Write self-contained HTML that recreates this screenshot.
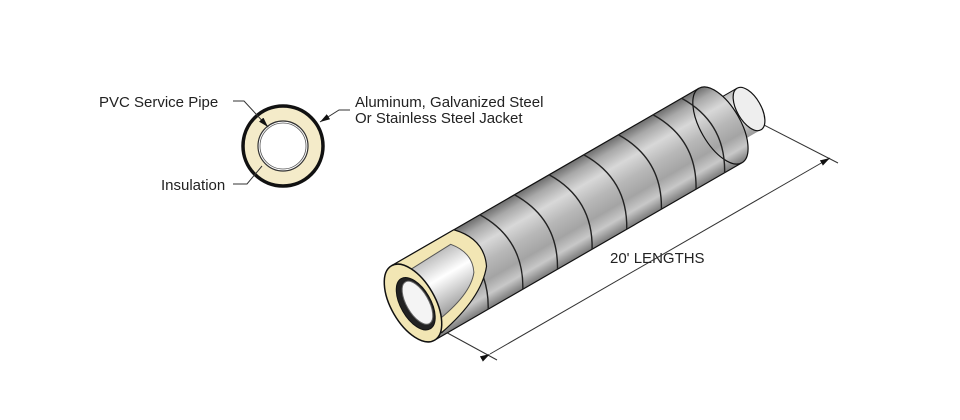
<!DOCTYPE html>
<html><head><style>
html,body{margin:0;padding:0;background:#fff;}
svg{display:block;}
text{font-family:"Liberation Sans",sans-serif;fill:#222;}
</style></head><body>
<svg width="960" height="420" viewBox="0 0 960 420" xmlns="http://www.w3.org/2000/svg">
<defs>
<linearGradient id="metal" x1="0" y1="0" x2="0" y2="1">
<stop offset="0" stop-color="#6e6e6e"/>
<stop offset="0.12" stop-color="#a8a8a8"/>
<stop offset="0.3" stop-color="#d8d8d8"/>
<stop offset="0.5" stop-color="#b8b8b8"/>
<stop offset="0.7" stop-color="#a4a4a4"/>
<stop offset="0.85" stop-color="#c8c8c8"/>
<stop offset="1" stop-color="#7a7a7a"/>
</linearGradient>
<linearGradient id="pvc" x1="0" y1="0" x2="0" y2="1">
<stop offset="0" stop-color="#bdbdbd"/>
<stop offset="0.4" stop-color="#ffffff"/>
<stop offset="1" stop-color="#9a9a9a"/>
</linearGradient>
<marker id="ah" markerWidth="10" markerHeight="6" refX="10" refY="3" orient="auto" markerUnits="userSpaceOnUse">
<path d="M0,0 L10,3 L0,6 Z" fill="#111"/>
</marker>
</defs>

<!-- left cross-section -->
<circle cx="283" cy="146" r="40" fill="#f4ebc9" stroke="#111" stroke-width="3.5"/>
<circle cx="283" cy="146" r="25" fill="#fff" stroke="#333" stroke-width="1.2"/>
<circle cx="283" cy="146" r="23" fill="none" stroke="#555" stroke-width="0.8"/>
<text x="99" y="107" font-size="15">PVC Service Pipe</text>
<polyline points="233,101 244,101 268,127" fill="none" stroke="#333" stroke-width="1" marker-end="url(#ah)"/>
<text x="355" y="107" font-size="15">Aluminum, Galvanized Steel</text>
<text x="355" y="123" font-size="15">Or Stainless Steel Jacket</text>
<polyline points="350,110 339,110 320,122" fill="none" stroke="#333" stroke-width="1" marker-end="url(#ah)"/>
<text x="161" y="190" font-size="15">Insulation</text>
<polyline points="233,184 247,184 262,166" fill="none" stroke="#333" stroke-width="1"/>

<!-- dimension -->
<line x1="442" y1="330" x2="497" y2="360" stroke="#333" stroke-width="1"/>
<line x1="762" y1="124" x2="838" y2="163" stroke="#333" stroke-width="1"/>
<line x1="490" y1="354" x2="830" y2="158" stroke="#333" stroke-width="1" marker-start="url(#ah)" marker-end="url(#ah)"/>
<text x="610" y="263" font-size="15">20' LENGTHS</text>

<!-- pipe -->
<g transform="translate(413,303) rotate(-30)">
  <rect x="355" y="-24" width="33" height="48" fill="url(#pvc)"/>
  <line x1="355" y1="-24" x2="388" y2="-24" stroke="#111"/>
  <ellipse cx="388" cy="0" rx="12" ry="24" fill="#eee" stroke="#111" stroke-width="1.2"/>
  <rect x="0" y="-43" width="355" height="86" fill="url(#metal)"/>
  <ellipse cx="355" cy="0" rx="20" ry="43" fill="url(#metal)" stroke="#111" stroke-width="1.2"/>
  <line x1="0" y1="-43" x2="355" y2="-43" stroke="#111" stroke-width="1.2"/>
  <line x1="0" y1="43" x2="355" y2="43" stroke="#111" stroke-width="1.2"/>
  <g fill="none" stroke="#222" stroke-width="1.4">
    <path d="M62,-43 Q88,0 62,43"/><path d="M102,-43 Q128,0 102,43"/>
    <path d="M142,-43 Q168,0 142,43"/><path d="M182,-43 Q208,0 182,43"/>
    <path d="M222,-43 Q248,0 222,43"/><path d="M262,-43 Q288,0 262,43"/>
    <path d="M302,-43 Q328,0 302,43"/><path d="M335,-43 Q361,0 335,43"/>
  </g>
  <path d="M0,-43 L72,-43 Q94,-20 82,5 Q62,30 10,40 Z" fill="#f2e6b4" stroke="#111" stroke-width="1.2"/>
  <path d="M8,-30 L62,-32 Q77,-14 68,4 Q54,22 10,28 Z" fill="url(#pvc)" stroke="#555" stroke-width="1"/>
  <ellipse cx="0" cy="0" rx="22" ry="43" fill="#f2e6b4" stroke="#111" stroke-width="1.5"/>
  <ellipse cx="2" cy="2" rx="15" ry="29" fill="#222" stroke="#111"/>
  <ellipse cx="4" cy="2" rx="11" ry="24" fill="#f4f4f4" stroke="#666"/>
</g>
</svg>
</body></html>
